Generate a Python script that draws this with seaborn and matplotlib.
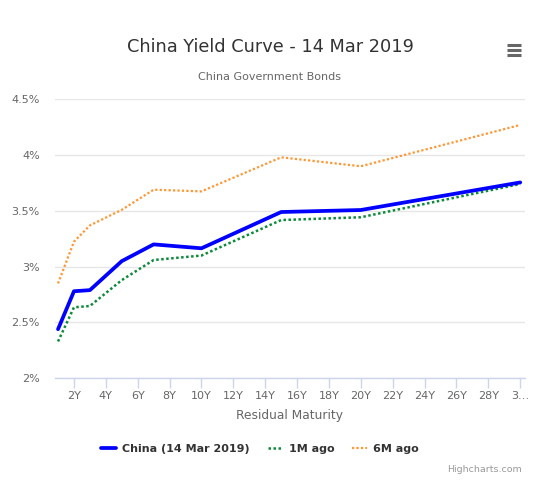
import matplotlib
matplotlib.use("Agg")
import matplotlib.pyplot as plt
from matplotlib.ticker import FixedLocator
import seaborn as sns
import pandas as pd

# ---- data ----
maturity_years = [1, 2, 3, 5, 7, 10, 15, 20, 30]
china_now = [2.44, 2.78, 2.79, 3.05, 3.20, 3.165, 3.49, 3.508, 3.755]
one_m_ago = [2.33, 2.636, 2.648, 2.88, 3.06, 3.10, 3.418, 3.443, 3.741]
six_m_ago = [2.85, 3.224, 3.37, 3.51, 3.69, 3.675, 3.98, 3.90, 4.27]
series_names = ["China (14 Mar 2019)", "1M ago", "6M ago"]
x_ticks = [2, 4, 6, 8, 10, 12, 14, 16, 18, 20, 22, 24, 26, 28, 30]
x_tick_labels = ["2Y", "4Y", "6Y", "8Y", "10Y", "12Y", "14Y", "16Y", "18Y",
                 "20Y", "22Y", "24Y", "26Y", "28Y", "3…"]
y_ticks = [2.0, 2.5, 3.0, 3.5, 4.0, 4.5]
y_tick_labels = ["2%", "2.5%", "3%", "3.5%", "4%", "4.5%"]

sns.set_theme(style="white")
plt.rcParams['font.family'] = ['DejaVu Sans']

df = pd.DataFrame({
    "Maturity": maturity_years * 3,
    "Yield": china_now + one_m_ago + six_m_ago,
    "Series": [series_names[0]] * len(maturity_years)
              + [series_names[1]] * len(maturity_years)
              + [series_names[2]] * len(maturity_years),
})

fig = plt.figure(figsize=(5.4, 4.82), dpi=100)
ax = fig.add_axes([55 / 540, 1 - 378.3 / 482, 470 / 540, 279 / 482])

colors = {series_names[0]: "#0000ff", series_names[1]: "#0b8a3a", series_names[2]: "#ff9633"}
widths = {series_names[0]: 2.7, series_names[1]: 1.8, series_names[2]: 1.6}
styles = {series_names[0]: "-", series_names[1]: (0, (1, 1)), series_names[2]: (0, (1, 1))}

for name in series_names:
    sub = df[df["Series"] == name]
    sns.lineplot(data=sub, x="Maturity", y="Yield", ax=ax, color=colors[name],
                 linewidth=widths[name], linestyle=styles[name], label=name,
                 zorder=3 if name == series_names[0] else 2)

ax.set_xlim(0.81, 30.3)
ax.set_ylim(2.0, 4.5)
ax.yaxis.set_major_locator(FixedLocator(y_ticks))
ax.set_yticklabels(y_tick_labels)
ax.xaxis.set_major_locator(FixedLocator(x_ticks))
ax.set_xticklabels(x_tick_labels)

ax.grid(axis="y", color="#e6e6e6", linewidth=1)
ax.grid(axis="x", visible=False)
for s in ["top", "right", "left"]:
    ax.spines[s].set_visible(False)
ax.spines["bottom"].set_color("#ccd6eb")
ax.spines["bottom"].set_linewidth(1)

ax.tick_params(axis="x", colors="#666666", labelsize=8, length=7, width=1,
               direction="out", pad=2, bottom=True)
ax.tick_params(axis="x", color="#ccd6eb")
ax.tick_params(axis="y", colors="#666666", labelsize=8, length=0, pad=11)
for lbl in ax.get_yticklabels():
    lbl.set_horizontalalignment("right")

ax.set_xlabel("Residual Maturity", color="#666666", fontsize=8.8, labelpad=6)
ax.set_ylabel("")

fig.text(270 / 540, 1 - 47 / 482, "China Yield Curve - 14 Mar 2019",
         ha="center", va="center", fontsize=12.8, color="#333333")
fig.text(270 / 540, 1 - 77 / 482, "China Government Bonds",
         ha="center", va="center", fontsize=8, color="#666666")

# hamburger menu icon
for yy in [45, 50, 55]:
    fig.add_artist(plt.Line2D([507 / 540, 521 / 540], [1 - yy / 482, 1 - yy / 482],
                              color="#666666", linewidth=2.2, solid_capstyle="butt"))

leg = ax.legend(loc="upper center", bbox_to_anchor=((260 - 55) / 470, -0.20), ncol=3,
                frameon=False, fontsize=8.0, handlelength=1.35, columnspacing=1.6,
                handletextpad=0.55)
for t in leg.get_texts():
    t.set_color("#333333")
    t.set_fontweight("bold")

fig.text(522 / 540, 1 - 470 / 482, "Highcharts.com", ha="right", va="center",
         fontsize=6.8, color="#999999")

fig.savefig("out.png", dpi=100, facecolor="white")
